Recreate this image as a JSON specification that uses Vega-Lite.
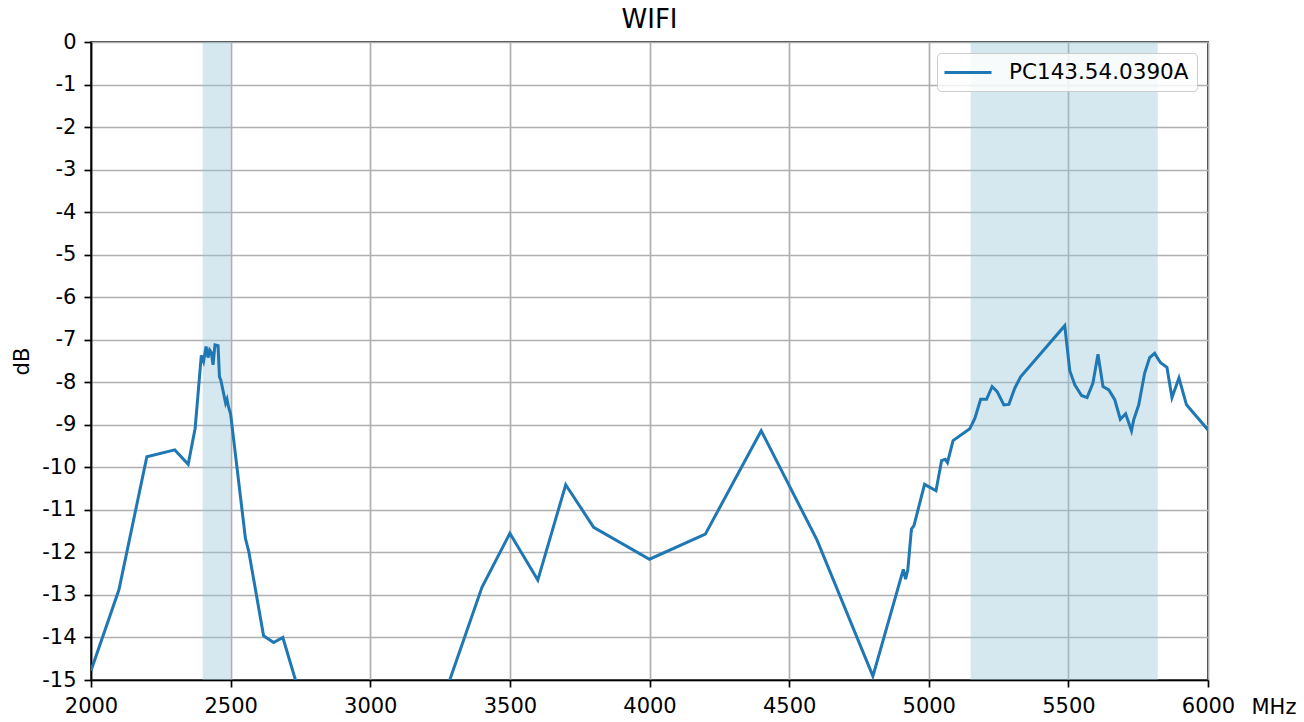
{
  "$schema": "https://vega.github.io/schema/vega-lite/v6.json",
  "autosize": "none",
  "width": 1117,
  "height": 638,
  "padding": {"left": 91, "top": 42, "right": 96, "bottom": 42},
  "background": "white",
  "config": {
    "font": "DejaVu Sans",
    "view": {"stroke": "black", "strokeWidth": 1.7},
    "axis": {
      "domainColor": "black", "domainWidth": 1.7,
      "tickColor": "black", "tickWidth": 1.7, "tickSize": 7,
      "gridColor": "#b0b0b0", "gridWidth": 1.7, "gridOpacity": 1,
      "labelFont": "DejaVu Sans", "labelFontSize": 21, "labelColor": "black",
      "titleFont": "DejaVu Sans", "titleFontSize": 21, "titleFontWeight": "normal", "titleColor": "black"
    }
  },
  "title": {"text": "WIFI", "fontSize": 26, "fontWeight": "normal", "color": "black", "font": "DejaVu Sans", "baseline": "bottom", "offset": 8, "dy": 36},
  "datasets": {
    "bands": [
      {"start": 2400, "end": 2500},
      {"start": 5150, "end": 5820}
    ],
    "curve": [
      {"f": 2000, "db": -14.78, "s": "PC143.54.0390A"},
      {"f": 2100, "db": -12.88, "s": "PC143.54.0390A"},
      {"f": 2200, "db": -9.75, "s": "PC143.54.0390A"},
      {"f": 2300, "db": -9.59, "s": "PC143.54.0390A"},
      {"f": 2348, "db": -9.93, "s": "PC143.54.0390A"},
      {"f": 2373, "db": -9.08, "s": "PC143.54.0390A"},
      {"f": 2395, "db": -7.37, "s": "PC143.54.0390A"},
      {"f": 2403, "db": -7.51, "s": "PC143.54.0390A"},
      {"f": 2412, "db": -7.16, "s": "PC143.54.0390A"},
      {"f": 2419, "db": -7.42, "s": "PC143.54.0390A"},
      {"f": 2425, "db": -7.24, "s": "PC143.54.0390A"},
      {"f": 2431, "db": -7.30, "s": "PC143.54.0390A"},
      {"f": 2437, "db": -7.59, "s": "PC143.54.0390A"},
      {"f": 2444, "db": -7.12, "s": "PC143.54.0390A"},
      {"f": 2455, "db": -7.14, "s": "PC143.54.0390A"},
      {"f": 2460, "db": -7.87, "s": "PC143.54.0390A"},
      {"f": 2465, "db": -7.95, "s": "PC143.54.0390A"},
      {"f": 2482, "db": -8.49, "s": "PC143.54.0390A"},
      {"f": 2487, "db": -8.40, "s": "PC143.54.0390A"},
      {"f": 2492, "db": -8.57, "s": "PC143.54.0390A"},
      {"f": 2500, "db": -8.75, "s": "PC143.54.0390A"},
      {"f": 2553, "db": -11.67, "s": "PC143.54.0390A"},
      {"f": 2565, "db": -11.98, "s": "PC143.54.0390A"},
      {"f": 2618, "db": -13.96, "s": "PC143.54.0390A"},
      {"f": 2654, "db": -14.12, "s": "PC143.54.0390A"},
      {"f": 2687, "db": -14.0, "s": "PC143.54.0390A"},
      {"f": 2800, "db": -16.5, "s": "PC143.54.0390A"},
      {"f": 2900, "db": -17.4, "s": "PC143.54.0390A"},
      {"f": 3000, "db": -17.9, "s": "PC143.54.0390A"},
      {"f": 3100, "db": -17.2, "s": "PC143.54.0390A"},
      {"f": 3200, "db": -16.6, "s": "PC143.54.0390A"},
      {"f": 3400, "db": -12.82, "s": "PC143.54.0390A"},
      {"f": 3500, "db": -11.55, "s": "PC143.54.0390A"},
      {"f": 3600, "db": -12.65, "s": "PC143.54.0390A"},
      {"f": 3700, "db": -10.41, "s": "PC143.54.0390A"},
      {"f": 3800, "db": -11.41, "s": "PC143.54.0390A"},
      {"f": 4000, "db": -12.16, "s": "PC143.54.0390A"},
      {"f": 4200, "db": -11.57, "s": "PC143.54.0390A"},
      {"f": 4400, "db": -9.14, "s": "PC143.54.0390A"},
      {"f": 4600, "db": -11.71, "s": "PC143.54.0390A"},
      {"f": 4800, "db": -14.91, "s": "PC143.54.0390A"},
      {"f": 4909, "db": -12.40, "s": "PC143.54.0390A"},
      {"f": 4917, "db": -12.63, "s": "PC143.54.0390A"},
      {"f": 4925, "db": -12.41, "s": "PC143.54.0390A"},
      {"f": 4938, "db": -11.45, "s": "PC143.54.0390A"},
      {"f": 4947, "db": -11.37, "s": "PC143.54.0390A"},
      {"f": 4985, "db": -10.40, "s": "PC143.54.0390A"},
      {"f": 5026, "db": -10.55, "s": "PC143.54.0390A"},
      {"f": 5046, "db": -9.84, "s": "PC143.54.0390A"},
      {"f": 5059, "db": -9.81, "s": "PC143.54.0390A"},
      {"f": 5067, "db": -9.89, "s": "PC143.54.0390A"},
      {"f": 5087, "db": -9.37, "s": "PC143.54.0390A"},
      {"f": 5147, "db": -9.09, "s": "PC143.54.0390A"},
      {"f": 5165, "db": -8.85, "s": "PC143.54.0390A"},
      {"f": 5186, "db": -8.40, "s": "PC143.54.0390A"},
      {"f": 5207, "db": -8.40, "s": "PC143.54.0390A"},
      {"f": 5227, "db": -8.10, "s": "PC143.54.0390A"},
      {"f": 5245, "db": -8.22, "s": "PC143.54.0390A"},
      {"f": 5269, "db": -8.53, "s": "PC143.54.0390A"},
      {"f": 5287, "db": -8.52, "s": "PC143.54.0390A"},
      {"f": 5308, "db": -8.14, "s": "PC143.54.0390A"},
      {"f": 5329, "db": -7.87, "s": "PC143.54.0390A"},
      {"f": 5487, "db": -6.67, "s": "PC143.54.0390A"},
      {"f": 5505, "db": -7.73, "s": "PC143.54.0390A"},
      {"f": 5523, "db": -8.06, "s": "PC143.54.0390A"},
      {"f": 5547, "db": -8.31, "s": "PC143.54.0390A"},
      {"f": 5567, "db": -8.36, "s": "PC143.54.0390A"},
      {"f": 5588, "db": -8.02, "s": "PC143.54.0390A"},
      {"f": 5606, "db": -7.34, "s": "PC143.54.0390A"},
      {"f": 5624, "db": -8.10, "s": "PC143.54.0390A"},
      {"f": 5645, "db": -8.18, "s": "PC143.54.0390A"},
      {"f": 5666, "db": -8.41, "s": "PC143.54.0390A"},
      {"f": 5686, "db": -8.87, "s": "PC143.54.0390A"},
      {"f": 5705, "db": -8.74, "s": "PC143.54.0390A"},
      {"f": 5726, "db": -9.14, "s": "PC143.54.0390A"},
      {"f": 5734, "db": -8.88, "s": "PC143.54.0390A"},
      {"f": 5752, "db": -8.53, "s": "PC143.54.0390A"},
      {"f": 5773, "db": -7.79, "s": "PC143.54.0390A"},
      {"f": 5791, "db": -7.42, "s": "PC143.54.0390A"},
      {"f": 5809, "db": -7.32, "s": "PC143.54.0390A"},
      {"f": 5830, "db": -7.54, "s": "PC143.54.0390A"},
      {"f": 5853, "db": -7.65, "s": "PC143.54.0390A"},
      {"f": 5871, "db": -8.36, "s": "PC143.54.0390A"},
      {"f": 5896, "db": -7.90, "s": "PC143.54.0390A"},
      {"f": 5923, "db": -8.53, "s": "PC143.54.0390A"},
      {"f": 6000, "db": -9.12, "s": "PC143.54.0390A"}
    ]
  },
  "layer": [
    {
      "data": {"name": "bands"},
      "mark": {"type": "rect", "color": "#96c5d7", "opacity": 0.4},
      "encoding": {
        "x": {"field": "start", "type": "quantitative"},
        "x2": {"field": "end"}
      }
    },
    {
      "data": {"name": "curve"},
      "mark": {"type": "line", "strokeWidth": 3, "clip": true},
      "encoding": {
        "x": {
          "field": "f", "type": "quantitative",
          "scale": {"domain": [2000, 6000], "nice": false, "zero": false},
          "axis": {
            "values": [2000, 2500, 3000, 3500, 4000, 4500, 5000, 5500, 6000],
            "labelExpr": "'' + datum.value",
            "labelPadding": 8,
            "labelFlush": false,
            "labelOverlap": false,
            "title": "MHz",
            "titleAlign": "left",
            "titleAnchor": null,
            "titleX": 1160,
            "titleY": 33,
            "titleBaseline": "alphabetic",
            "grid": true
          }
        },
        "y": {
          "field": "db", "type": "quantitative",
          "scale": {"domain": [-15, 0], "nice": false, "zero": false},
          "axis": {
            "values": [0, -1, -2, -3, -4, -5, -6, -7, -8, -9, -10, -11, -12, -13, -14, -15],
            "labelExpr": "'' + datum.value",
            "labelPadding": 8,
            "labelFlush": false,
            "labelOverlap": false,
            "title": "dB",
            "titlePadding": 9,
            "grid": true
          }
        },
        "color": {
          "field": "s", "type": "nominal",
          "scale": {"range": ["#1f77b4"]},
          "legend": {
            "title": null,
            "orient": "top-right",
            "offset": 11,
            "padding": 8,
            "fillColor": "rgba(255,255,255,0.8)",
            "strokeColor": "#cccccc",
            "cornerRadius": 4,
            "symbolType": "M-1.2,0H3.5",
            "symbolSize": 400,
            "symbolStrokeWidth": 3,
            "symbolFillColor": "transparent",
            "labelFontSize": 21.5,
            "labelFont": "DejaVu Sans",
            "labelColor": "black",
            "labelOffset": 41,
            "labelLimit": 400
          }
        }
      }
    }
  ]
}
